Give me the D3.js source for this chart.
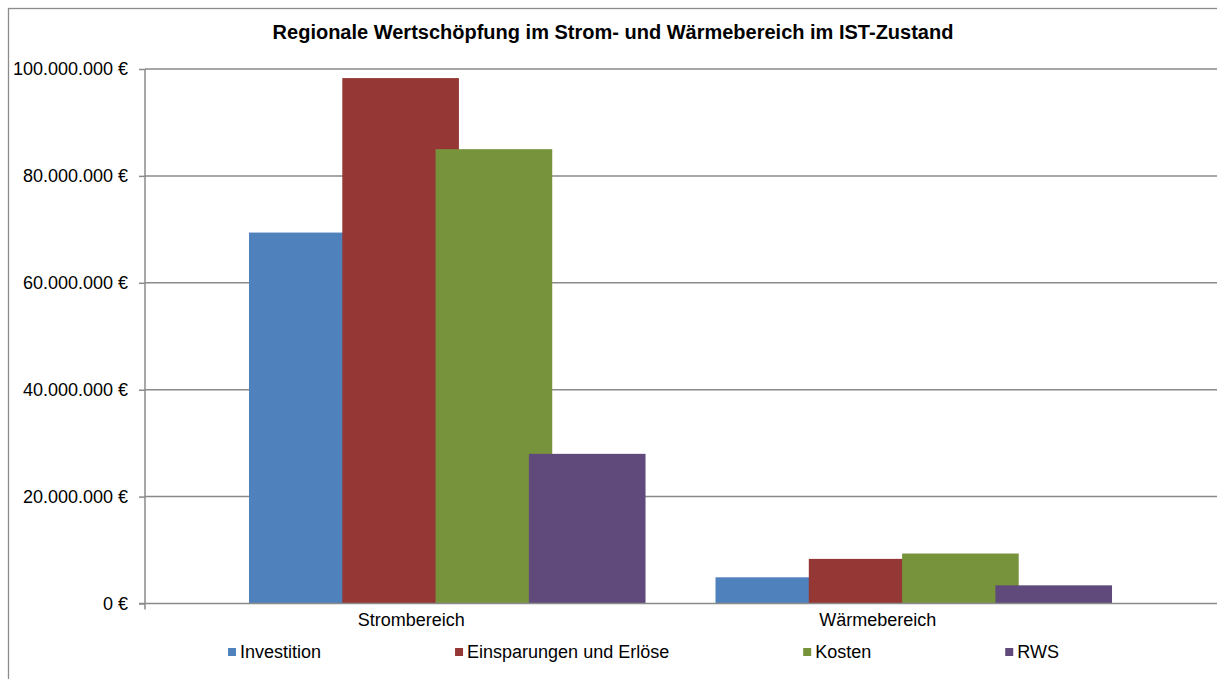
<!DOCTYPE html>
<html>
<head>
<meta charset="utf-8">
<script src="https://cdn.jsdelivr.net/npm/d3@7"></script>
<style>
  html, body { margin: 0; padding: 0; background: #fff; }
  svg { display: block; font-family: "Liberation Sans", Arial, sans-serif; }
</style>
</head>
<body>
<svg width="1217" height="679"></svg>
<script>
// chart data
var categories = ["Strombereich", "Wärmebereich"];
var seriesNames = ["Investition", "Einsparungen und Erlöse", "Kosten", "RWS"];
var investition = [69400000, 4900000];
var einsparungen = [98300000, 8350000];
var kosten = [85000000, 9350000];
var rws = [28000000, 3400000];
var yTicks = [0, 20000000, 40000000, 60000000, 80000000, 100000000];
var title = "Regionale Wertschöpfung im Strom- und Wärmebereich im IST-Zustand";

var seriesValues = [investition, einsparungen, kosten, rws];
var colors = ["#4F81BD", "#953735", "#77933C", "#604A7B"];

var svg = d3.select("svg"),
    width = +svg.attr("width"),
    height = +svg.attr("height");

var plot = { left: 145, right: 1217, top: 69, bottom: 603.5 };

var de = d3.formatLocale({
    decimal: ",", thousands: ".", grouping: [3], currency: ["", " €"]
});
var fmt = de.format("$,.0f");

var y = d3.scaleLinear()
    .domain([0, 100000000])
    .range([plot.bottom, plot.top]);

var x0 = d3.scaleBand()
    .domain(categories)
    .range([178, 1111]);

// bars overlap: each bar is 1.25x its step
var x1 = d3.scaleBand()
    .domain(seriesNames)
    .range([71, 71 + 4 * 93.3]);
var barW = x1.bandwidth() * 1.25;

// outer border
svg.append("rect")
    .attr("x", 8.5).attr("y", 8.5)
    .attr("width", 1230).attr("height", 700)
    .attr("fill", "none")
    .attr("stroke", "#8c8c8c")
    .attr("stroke-width", 1.3);

// title
svg.append("text")
    .attr("x", 613)
    .attr("y", 32)
    .attr("text-anchor", "middle")
    .attr("dominant-baseline", "central")
    .attr("font-size", 20)
    .attr("font-weight", "bold")
    .text(title);

// gridlines
svg.append("g").selectAll("line")
    .data(yTicks.filter(function (d) { return d > 0; }))
    .join("line")
    .attr("x1", plot.left).attr("x2", plot.right)
    .attr("y1", function (d) { return y(d); })
    .attr("y2", function (d) { return y(d); })
    .attr("stroke", "#8a8a8a")
    .attr("stroke-width", 1.5);

// bars, drawn series by series so later ones overlap earlier ones
var bars = svg.append("g");
categories.forEach(function (c, ci) {
    seriesNames.forEach(function (s, si) {
        var v = seriesValues[si][ci];
        bars.append("rect")
            .attr("x", x0(c) + x1(s))
            .attr("y", y(v))
            .attr("width", barW)
            .attr("height", y(0) - y(v))
            .attr("fill", colors[si]);
    });
});

// y axis
var yAxis = d3.axisLeft(y)
    .tickValues(yTicks)
    .tickFormat(fmt)
    .tickSize(6)
    .tickPadding(11);
var gy = svg.append("g")
    .attr("transform", "translate(" + plot.left + ",0)")
    .call(yAxis);
gy.select(".domain").remove();
gy.selectAll(".tick line").attr("stroke", "#8a8a8a").attr("stroke-width", 1.5);
gy.selectAll(".tick text")
    .attr("font-size", 18)
    .attr("font-family", "Liberation Sans, Arial, sans-serif")
    .attr("fill", "#000");

svg.append("line")
    .attr("x1", plot.left).attr("x2", plot.left)
    .attr("y1", plot.top).attr("y2", plot.bottom + 6)
    .attr("stroke", "#8a8a8a").attr("stroke-width", 1.5);

// x axis
var xAxis = d3.axisBottom(x0).tickSize(0).tickPadding(10);
var gx = svg.append("g")
    .attr("transform", "translate(0," + plot.bottom + ")")
    .call(xAxis);
gx.select(".domain").remove();
gx.selectAll(".tick text")
    .attr("font-size", 18)
    .attr("font-family", "Liberation Sans, Arial, sans-serif")
    .attr("fill", "#000");

svg.append("line")
    .attr("x1", plot.left - 6).attr("x2", plot.right)
    .attr("y1", plot.bottom).attr("y2", plot.bottom)
    .attr("stroke", "#8a8a8a").attr("stroke-width", 1.5);

// legend
var legend = svg.append("g").attr("transform", "translate(228,652)");
var lx = 0;
seriesNames.forEach(function (s, i) {
    var item = legend.append("g").attr("transform", "translate(" + lx + ",0)");
    item.append("rect")
        .attr("x", 0).attr("y", -4)
        .attr("width", 8).attr("height", 8)
        .attr("fill", colors[i]);
    var t = item.append("text")
        .attr("x", 12)
        .attr("y", 0)
        .attr("dominant-baseline", "central")
        .attr("font-size", 18)
        .text(s);
    lx += 12 + t.node().getComputedTextLength() + 134;
});
</script>
</body>
</html>
